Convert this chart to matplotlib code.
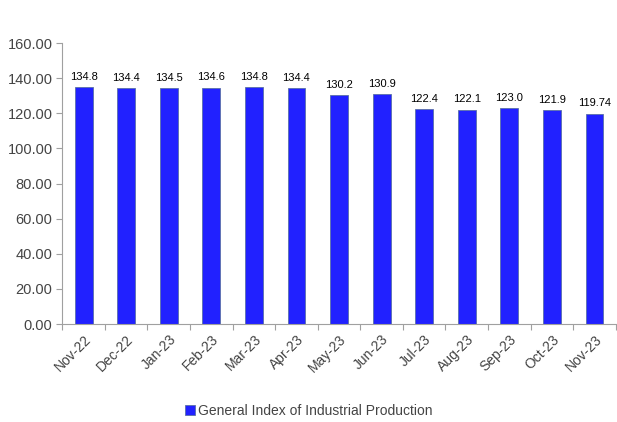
import numpy as np
import matplotlib.pyplot as plt

plt.rcParams['font.family'] = ['Liberation Sans', 'DejaVu Sans']

# Data
months = ['Nov-22', 'Dec-22', 'Jan-23', 'Feb-23', 'Mar-23', 'Apr-23', 'May-23',
          'Jun-23', 'Jul-23', 'Aug-23', 'Sep-23', 'Oct-23', 'Nov-23']
values = [134.8, 134.4, 134.5, 134.6, 134.8, 134.4, 130.2,
          130.9, 122.4, 122.1, 123.0, 121.9, 119.74]
labels = ['134.8', '134.4', '134.5', '134.6', '134.8', '134.4', '130.2',
          '130.9', '122.4', '122.1', '123.0', '121.9', '119.74']

fig = plt.figure(figsize=(6.17, 4.22), dpi=100)
ax = fig.add_axes([0.101, 0.232, 0.897, 0.666])

x = np.arange(len(months))
bars = ax.bar(x, values, width=0.42, color='#2121FF', edgecolor='#5a6fa8',
              linewidth=0.6, label='General Index of Industrial Production')

for xi, v, s in zip(x, values, labels):
    ax.text(xi, v + 3, s, ha='center', va='bottom', fontsize=8, color='black')

ax.set_xlim(-0.5, len(months) - 0.5)
ax.set_ylim(0, 160)
ax.set_yticks(np.arange(0, 161, 20))
ax.set_yticklabels(['%.2f' % t for t in np.arange(0, 161, 20)], fontsize=10.5, color='#444444')

# ticks at category boundaries, labels centered
ax.set_xticks(np.arange(-0.5, len(months), 1.0))
ax.set_xticklabels([])
ax.set_xticks(x, minor=True)
ax.set_xticklabels(months, minor=True, rotation=45, ha='right', rotation_mode='anchor',
                   fontsize=10, color='#444444')
ax.tick_params(axis='x', which='minor', length=0, pad=6)
ax.tick_params(axis='x', which='major', length=4, color='#a0a0a0')
ax.tick_params(axis='y', length=4, color='#a0a0a0', pad=3)

for side in ['top', 'right']:
    ax.spines[side].set_visible(False)
for side in ['left', 'bottom']:
    ax.spines[side].set_color('#a0a0a0')

leg = fig.legend(loc='center', bbox_to_anchor=(0.5, 0.026), frameon=False, fontsize=10,
                 handlelength=0.7, handleheight=0.7, handletextpad=0.2)
for t in leg.get_texts():
    t.set_color('#444444')

fig.savefig('out.png', dpi=100)
